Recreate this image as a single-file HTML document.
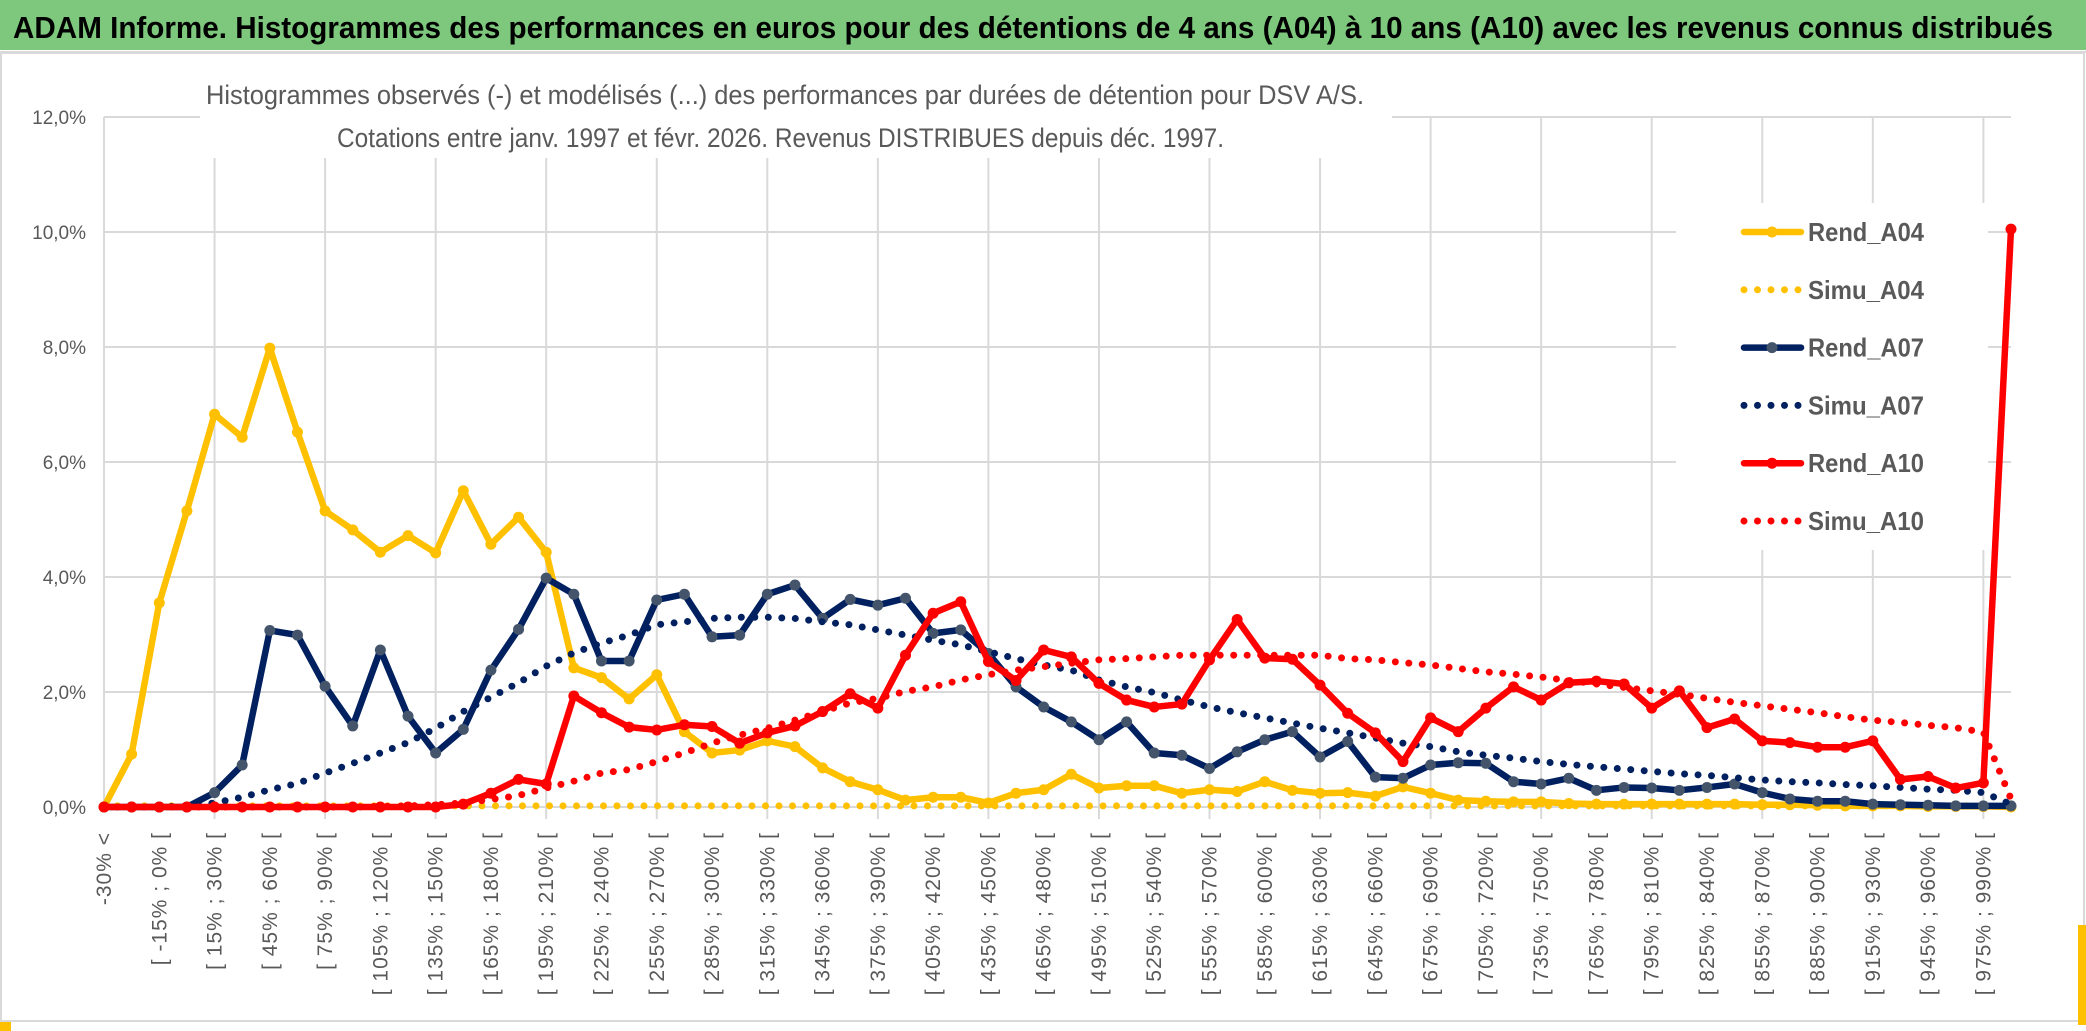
<!DOCTYPE html>
<html><head><meta charset="utf-8"><style>
html,body{margin:0;padding:0;background:#fff;}
svg{display:block;font-family:"Liberation Sans",sans-serif;}
</style></head><body>
<svg id="chart" width="2086" height="1031" viewBox="0 0 2086 1031" xmlns="http://www.w3.org/2000/svg">
<rect x="0" y="0" width="2086" height="1031" fill="#fff"/>
<rect x="0" y="0" width="2086" height="50" fill="#7ec87e"/>
<line x1="0" y1="52" x2="2086" y2="52" stroke="#d9d9d9" stroke-width="2"/>
<text x="13" y="38" font-size="31" font-weight="bold" fill="#000" textLength="2040" lengthAdjust="spacingAndGlyphs">ADAM Informe. Histogrammes des performances en euros pour des détentions de 4 ans (A04) à 10 ans (A10) avec les revenus connus distribués</text>
<rect x="1" y="53" width="2083" height="968" fill="none" stroke="#d9d9d9" stroke-width="2"/>
<rect x="0" y="1022" width="11" height="9" fill="#ffc000"/>
<rect x="2078" y="925" width="8" height="100" fill="#ffc000"/>
<g id="grid"></g>
<g id="yaxis"></g>
<g id="xaxis"></g>
<rect x="200" y="68" width="1192" height="90" fill="#fff"/>
<text x="206" y="104" font-size="27" fill="#595959" textLength="1158" lengthAdjust="spacingAndGlyphs">Histogrammes observés (-) et modélisés (...) des performances par durées de détention pour DSV A/S.</text>
<text x="337" y="147" font-size="27" fill="#595959" textLength="887" lengthAdjust="spacingAndGlyphs">Cotations entre janv. 1997 et févr. 2026. Revenus DISTRIBUES depuis déc. 1997.</text>
<rect x="1676" y="203" width="312" height="347" fill="#fff"/>
<g id="series"></g>
<g id="legend"></g>
</svg>
<script>
const categories = (function(){ const c=["-30% <"]; for(let k=1;k<69;k++){ const a=-30+15*(k-1); c.push("[ "+a+"% ; "+(a+15)+"% ["); } c.push("990% >="); return c; })();
const yTicks = [0,2,4,6,8,10,12];
const yTickLabels = ["0,0%","2,0%","4,0%","6,0%","8,0%","10,0%","12,0%"];
const rendA04 = [0,0.92,3.55,5.15,6.83,6.43,7.98,6.52,5.15,4.82,4.43,4.72,4.42,5.5,4.57,5.04,4.43,2.42,2.25,1.88,2.3,1.31,0.94,0.99,1.15,1.05,0.68,0.44,0.3,0.12,0.17,0.17,0.07,0.24,0.3,0.57,0.33,0.37,0.37,0.24,0.3,0.27,0.44,0.29,0.24,0.25,0.19,0.35,0.24,0.12,0.1,0.09,0.09,0.06,0.05,0.05,0.05,0.05,0.05,0.05,0.04,0.04,0.03,0.02,0.02,0.02,0.01,0.01,0.01,0];
const simuA04 = [0.02,0.02,0.02,0.02,0.02,0.02,0.02,0.02,0.02,0.02,0.02,0.02,0.02,0.02,0.02,0.02,0.02,0.02,0.02,0.02,0.02,0.02,0.02,0.02,0.02,0.02,0.02,0.02,0.02,0.02,0.02,0.02,0.02,0.02,0.02,0.02,0.02,0.02,0.02,0.02,0.02,0.02,0.02,0.02,0.02,0.02,0.02,0.02,0.02,0.02,0.02,0.02,0.02,0.02,0.02,0.02,0.02,0.02,0.02,0.02,0.02,0.02,0.02,0.02,0.02,0.02,0.02,0.02,0.02,0];
const rendA07 = [0,0,0,0,0.25,0.73,3.07,2.99,2.1,1.41,2.73,1.58,0.94,1.35,2.38,3.09,3.98,3.7,2.54,2.54,3.6,3.7,2.96,2.99,3.7,3.86,3.28,3.61,3.51,3.63,3.02,3.08,2.67,2.09,1.74,1.48,1.17,1.48,0.94,0.9,0.67,0.96,1.17,1.31,0.87,1.14,0.52,0.5,0.73,0.77,0.76,0.44,0.4,0.5,0.29,0.34,0.33,0.29,0.34,0.4,0.25,0.14,0.1,0.1,0.05,0.04,0.03,0.02,0.02,0.02];
const simuA07 = [0,0,0,0.02,0.07,0.17,0.3,0.41,0.59,0.76,0.94,1.12,1.37,1.66,1.91,2.16,2.45,2.68,2.85,2.99,3.17,3.22,3.28,3.3,3.3,3.28,3.22,3.17,3.08,2.99,2.9,2.82,2.7,2.58,2.47,2.38,2.21,2.09,1.99,1.86,1.74,1.64,1.55,1.46,1.37,1.29,1.2,1.11,1.05,0.96,0.9,0.85,0.79,0.74,0.7,0.66,0.62,0.58,0.55,0.51,0.47,0.44,0.42,0.39,0.37,0.34,0.31,0.29,0.25,0.05];
const rendA10 = [0,0,0,0,0,0,0,0,0,0,0,0,0,0.05,0.24,0.48,0.4,1.93,1.64,1.39,1.34,1.43,1.4,1.11,1.29,1.41,1.66,1.97,1.72,2.64,3.37,3.57,2.53,2.2,2.73,2.61,2.15,1.86,1.74,1.79,2.56,3.26,2.59,2.57,2.12,1.63,1.29,0.79,1.55,1.31,1.72,2.09,1.86,2.16,2.19,2.14,1.72,2.02,1.38,1.53,1.15,1.12,1.04,1.04,1.15,0.48,0.53,0.33,0.42,10.05];
const simuA10 = [0,0,0,0,0,0,0,0,0,0,0.01,0.02,0.04,0.07,0.13,0.2,0.33,0.45,0.59,0.65,0.79,0.94,1.11,1.25,1.37,1.51,1.66,1.81,1.89,2.01,2.09,2.21,2.3,2.38,2.44,2.5,2.56,2.58,2.61,2.64,2.64,2.64,2.64,2.64,2.64,2.58,2.56,2.51,2.47,2.41,2.35,2.31,2.26,2.2,2.14,2.08,2.02,1.96,1.89,1.82,1.76,1.7,1.64,1.57,1.51,1.47,1.42,1.38,1.3,0.14];
const seriesNames = ["Rend_A04","Simu_A04","Rend_A07","Simu_A07","Rend_A10","Simu_A10"];

const NS="http://www.w3.org/2000/svg";
const X0=104, X1=2011, Y0=807, PER=57.5;
function xScale(i){ return X0 + i*(X1-X0)/(categories.length-1); }
function yScale(v){ return Y0 - v*PER; }
function mk(tag, attrs, parent){ const e=document.createElementNS(NS,tag); for(const k in attrs) e.setAttribute(k,attrs[k]); parent.appendChild(e); return e; }

const grid=document.getElementById('grid');
yTicks.forEach(function(t){
  if(t===0) return;
  const l=mk('line',{x1:X0,x2:X1,y1:yScale(t),y2:yScale(t),stroke:'#d9d9d9','stroke-width':2},grid);
  
  
});
for(let i=4;i<categories.length;i+=4){
  const l=mk('line',{x1:xScale(i),x2:xScale(i),y1:yScale(12),y2:Y0+12,stroke:'#d9d9d9','stroke-width':2},grid);
  
  
}
mk('line',{x1:X0,x2:X0,y1:yScale(12),y2:Y0,stroke:'#d9d9d9','stroke-width':2},grid);
mk('line',{x1:X0,x2:X1,y1:Y0,y2:Y0,stroke:'#d9d9d9','stroke-width':2},grid);

const yaxis=document.getElementById('yaxis');
yTicks.forEach(function(t,k){
  const tx=mk('text',{x:86,y:yScale(t)+7,'text-anchor':'end','font-size':19,fill:'#595959'},yaxis);
  tx.textContent=yTickLabels[k];
  
  
});
const xaxis=document.getElementById('xaxis');
for(let i=0;i<categories.length;i+=2){
  const x=xScale(i)+7, y=832;
  const tx=mk('text',{x:x,y:y,'text-anchor':'end','font-size':21,fill:'#595959','letter-spacing':'1',transform:'rotate(-90 '+x+' '+y+')'},xaxis);
  tx.textContent=categories[i];
  
  
}

const sg=document.getElementById('series');
function pts(arr){ return arr.map(function(v,i){ return xScale(i)+','+yScale(v); }).join(' '); }
function solid(arr,color,mcolor,name){
  const g=mk('g',{},sg);
  
  
  mk('polyline',{points:pts(arr),fill:'none',stroke:color,'stroke-width':6.5,'stroke-linejoin':'round'},g);
  arr.forEach(function(v,i){
    const c=mk('circle',{cx:xScale(i),cy:yScale(v),r:5.5,fill:mcolor},g);
    
    
  });
}
function dotted(arr,color,name){
  const p=mk('polyline',{points:pts(arr),fill:'none',stroke:color,'stroke-width':7,'stroke-linecap':'round','stroke-dasharray':'0 13.5'},sg);
  
  
}
solid(rendA04,'#ffc000','#ffc000','series-rend-a04');
dotted(simuA04,'#ffc000','series-simu-a04');
solid(rendA07,'#002060','#44546a','series-rend-a07');
dotted(simuA07,'#002060','series-simu-a07');
solid(rendA10,'#ff0000','#ff0000','series-rend-a10');
dotted(simuA10,'#ff0000','series-simu-a10');

const lg=document.getElementById('legend');
const legColors=['#ffc000','#ffc000','#002060','#002060','#ff0000','#ff0000'];
const legMarker=['#ffc000','','#44546a','','#ff0000',''];
seriesNames.forEach(function(n,k){
  const y=232+k*57.8;
  const g=mk('g',{},lg);
  
  
  if(k%2===0){
    mk('line',{x1:1744,x2:1801,y1:y,y2:y,stroke:legColors[k],'stroke-width':6.5,'stroke-linecap':'round'},g);
    mk('circle',{cx:1772,cy:y,r:5.5,fill:legMarker[k]},g);
  } else {
    mk('line',{x1:1744,x2:1803,y1:y,y2:y,stroke:legColors[k],'stroke-width':7,'stroke-linecap':'round','stroke-dasharray':'0 13.5'},g);
  }
  const t=mk('text',{x:1808,y:y+9,'font-size':26,fill:'#595959','font-weight':'bold',textLength:116,lengthAdjust:'spacingAndGlyphs'},g);
  t.textContent=n;
});
</script>
</body></html>
